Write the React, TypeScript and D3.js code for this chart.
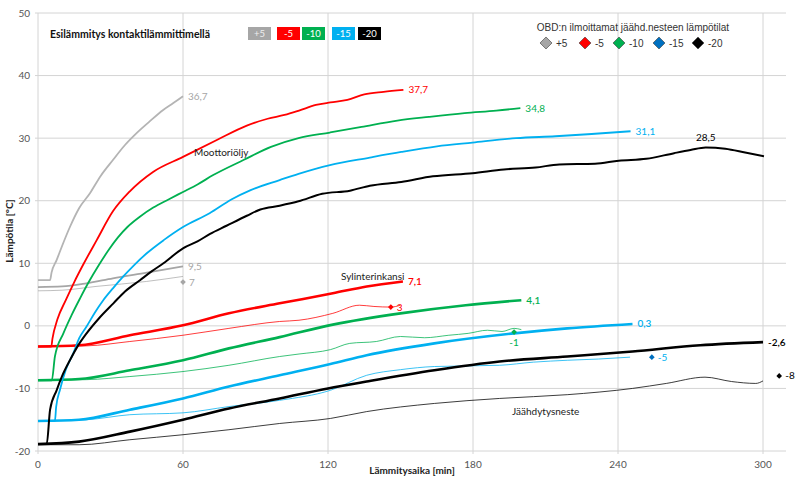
import * as d3 from "d3";

type Pt = [number, number];

// series keys: +5, -5, -10, -15, -20 (outdoor temperature during test)
const seriesNames = ["+5", "-5", "-10", "-15", "-20"];
const seriesColors = ["#a6a6a6", "#ff0000", "#00b050", "#00b0f0", "#000000"];
const obdColors = ["#a6a6a6", "#ff0000", "#00b050", "#0070c0", "#000000"];

const xTicks = [0, 60, 120, 180, 240, 300];
const yTicks = [-20, -10, 0, 10, 20, 30, 40, 50];

// Moottoriöljy (engine oil)
const oilP5: Pt[] = [[0, 7.3], [5, 7.3], [5.6, 8.5], [7.7, 10.5], [10, 12.8], [13.2, 15.8], [17, 18.8], [21.5, 21.2], [26, 24], [31, 26.5], [36, 28.9], [40.8, 30.8], [46, 32.6], [51.8, 34.5], [56, 35.6], [60, 36.7]];
const oilM5: Pt[] = [[0, -3.3], [5.5, -3.3], [6, -2], [8, 1], [11.5, 4.1], [15, 7], [19, 10], [24.3, 13.7], [31, 18.3], [38, 21.5], [47.6, 24.6], [60, 27], [74, 29.7], [86.4, 32], [95, 33.1], [102, 33.7], [108, 34.4], [115, 35.3], [121, 35.7], [128, 36.1], [135, 37], [143, 37.4], [151.2, 37.7]];
const oilM10: Pt[] = [[0, -8.7], [5.7, -8.7], [7, -4.9], [10.5, -1.2], [14, 1.8], [17.4, 4.4], [21, 7], [25, 9.6], [29, 12], [33, 14.1], [37, 15.8], [42, 17.4], [47.7, 18.9], [54, 20.2], [60, 21.4], [66, 22.6], [72.5, 24.1], [85, 26.5], [96.4, 28.6], [107.8, 30], [120.8, 30.9], [133.9, 31.8], [148.7, 32.8], [161.8, 33.4], [176.5, 34], [189.6, 34.4], [199.6, 34.8]];
const oilM15: Pt[] = [[0, -15.2], [7, -15.2], [7.5, -13], [9.1, -10.2], [11.5, -7], [14.6, -4.4], [17, -2], [20.1, -0.1], [23.5, 2.1], [27, 4.1], [31, 6], [35.3, 7.9], [40, 9.8], [45, 11.6], [52, 13.7], [60, 15.8], [71, 18], [80, 20.2], [88, 21.7], [100, 23.3], [107.8, 24.3], [120.8, 25.7], [137.3, 26.9], [150.3, 27.8], [165.1, 28.7], [179.8, 29.3], [197.8, 30], [214.1, 30.3], [230.5, 30.7], [245.2, 31.1]];
const oilM20: Pt[] = [[0, -18.9], [3.6, -18.9], [5, -13.4], [7.7, -10.3], [10, -8], [13.2, -5.5], [16.5, -3.2], [20.1, -1.2], [25, 1.1], [31.2, 3.6], [36, 5.5], [42.2, 7.3], [47, 8.7], [51.9, 10], [60, 12.4], [66, 13.5], [71.2, 14.7], [78, 16], [86.4, 17.6], [92, 18.6], [100, 19.2], [107.8, 19.9], [117.6, 21.1], [129.1, 21.6], [137.3, 22.4], [150.3, 23], [163.4, 23.9], [179.8, 24.4], [192.8, 25], [205.9, 25.3], [215.7, 25.8], [230.5, 25.9], [240.3, 26.4], [251.7, 26.7], [263.2, 27.6], [270, 28.1], [276.3, 28.5], [284.4, 28.3], [292.6, 27.7], [300.4, 27.1]];

// Sylinterinkansi (cylinder head)
const headP5: Pt[] = [[0, 6.2], [10, 6.3], [20, 6.8], [31, 7.6], [45, 8.5], [60, 9.5]];
const headM5: Pt[] = [[0, -3.3], [17, -3.1], [38, -1.5], [60, 0.1], [79, 2], [100, 3.6], [122, 5.2], [136, 6.3], [151, 7.1]];
const headM10: Pt[] = [[0, -8.7], [17, -8.5], [38, -7.1], [60, -5.5], [79, -3.6], [100, -1.8], [122, 0.2], [150, 2], [177, 3.3], [200, 4.1]];
const headM15: Pt[] = [[0, -15.2], [17, -15], [38, -13.4], [60, -11.6], [79, -9.7], [100, -7.9], [121, -6.1], [136, -4.7], [164, -2.8], [197, -1.2], [219, -0.4], [246, 0.3]];
const headM20: Pt[] = [[0, -18.9], [17, -18.5], [38, -16.9], [60, -15], [79, -13.2], [100, -11.6], [120, -10], [136, -8.9], [164, -7.1], [191, -5.7], [219, -4.9], [246, -4.1], [274, -3.1], [300, -2.6]];

// Jäähdytysneste (coolant)
const coolP5: Pt[] = [[0, 5.6], [10, 5.7], [24, 6.3], [45, 7.1], [60, 7.9]];
const coolM5: Pt[] = [[0, -3.3], [20, -3.2], [38, -2.5], [60, -1.5], [79, -0.4], [100, 0.7], [108, 0.9], [122, 2], [133, 3.3], [139, 3.1], [146, 3], [150, 3.3]];
const coolM10: Pt[] = [[0, -8.7], [20, -8.6], [38, -8.1], [60, -7.3], [79, -6.3], [100, -4.9], [108, -4.5], [121, -3.8], [129, -2.8], [140, -2.5], [150, -1.7], [160, -1.9], [170, -1.5], [178, -1.2], [186, -0.7], [192, -0.9], [197, -0.4], [200, -0.6]];
const coolM15: Pt[] = [[0, -15.2], [20, -15], [38, -14.2], [60, -13.9], [79, -12.9], [100, -11.9], [121, -10.3], [136, -7.9], [150, -7], [164, -6.5], [191, -6.3], [205, -5.8], [219, -5.5], [232, -5.3], [245, -5]];
const coolM20: Pt[] = [[0, -19], [17, -19], [38, -18.2], [60, -17.4], [79, -16.6], [100, -15.6], [121, -14.8], [136, -13.7], [164, -12.4], [191, -11.6], [219, -11], [246, -10], [260, -9.2], [276, -8.2], [287, -8.9], [297, -9.2], [300, -8.8]];

// OBD reported coolant temperatures
const obdPoints: Pt[] = [[60, 7], [146, 3], [197, -1], [254, -5], [306.7, -8]];
const obdLabels = ["7", "3", "-1", "-5", "-8"];

const oilSeries = [oilP5, oilM5, oilM10, oilM15, oilM20];
const headSeries = [headP5, headM5, headM10, headM15, headM20];
const coolSeries = [coolP5, coolM5, coolM10, coolM15, coolM20];

const oilEndLabels = ["36,7", "37,7", "34,8", "31,1", ""];
const headEndLabels = ["9,5", "7,1", "4,1", "0,3", "-2,6"];

export default function App() {
  const width = 800;
  const height = 494;
  const x = d3.scaleLinear().domain([0, 300]).range([38, 763]);
  const y = d3.scaleLinear().domain([-20, 50]).range([451, 13]);
  const gridRight = 786;

  const line = d3
    .line<Pt>()
    .x((d) => x(d[0]))
    .y((d) => y(d[1]))
    .curve(d3.curveMonotoneX);

  // square turned 45deg -> diamond like Excel's marker
  const square = d3.symbol().type(d3.symbolSquare);
  const font = "Lato, 'Open Sans', sans-serif";
  const last = (s: Pt[]) => s[s.length - 1];
  const peak = d3.greatest(oilM20, (d) => d[1])!;

  return (
    <div style={{ position: "absolute", left: 0, top: 0 }}>
      <svg width={width} height={height} style={{ display: "block", background: "#fff" }} fontFamily={font}>
        {/* grid */}
        {yTicks.map((t) => (
          <g key={"y" + t}>
            <line x1={x(0) - 3} x2={gridRight} y1={y(t)} y2={y(t)} stroke="#d4d4d4" strokeWidth={1} />
            <text x={30} y={y(t) + 3.5} textAnchor="end" fontSize={10} fill="#555">{t}</text>
          </g>
        ))}
        {xTicks.map((t) => (
          <g key={"x" + t}>
            <line x1={x(t)} x2={x(t)} y1={y(50)} y2={y(-20) + 3} stroke="#d4d4d4" strokeWidth={1} />
            <text x={x(t)} y={468} textAnchor="middle" fontSize={10} fill="#555">{t}</text>
          </g>
        ))}

        {/* coolant (thin) */}
        {coolSeries.map((s, i) => (
          <path key={"c" + i} d={line(s)!} fill="none" stroke={seriesColors[i]} strokeWidth={0.9} opacity={i === 0 ? 0.8 : 0.85} />
        ))}
        {/* cylinder head (thick) */}
        {headSeries.map((s, i) => (
          <path key={"h" + i} d={line(s)!} fill="none" stroke={seriesColors[i]} strokeWidth={i === 0 ? 1.8 : 2.6} />
        ))}
        {/* engine oil */}
        {oilSeries.map((s, i) => (
          <path key={"o" + i} d={line(s)!} fill="none" stroke={i === 0 ? "#b4b4b4" : seriesColors[i]} strokeWidth={i === 4 ? 2 : 1.8} />
        ))}

        {/* end labels */}
        {oilSeries.map((s, i) =>
          oilEndLabels[i] ? (
            <text key={"ol" + i} x={x(last(s)[0]) + 5} y={y(last(s)[1]) + 3.5} fontSize={10} fill={seriesColors[i]}>
              {oilEndLabels[i]}
            </text>
          ) : null,
        )}
        <text x={x(peak[0])} y={y(peak[1]) - 7} textAnchor="middle" fontSize={10} fill="#000">28,5</text>
        {headSeries.map((s, i) => (
          <text key={"hl" + i} x={x(last(s)[0]) + 5} y={y(last(s)[1]) + 3.5} fontSize={10} fontWeight={i === 0 ? 400 : 600} fill={seriesColors[i]}>
            {headEndLabels[i]}
          </text>
        ))}

        {/* OBD markers */}
        {obdPoints.map((p, i) => (
          <g key={"m" + i}>
            <path d={square.size(16)()!} transform={`translate(${x(p[0])},${y(p[1])}) rotate(45)`} fill={obdColors[i]} />
            <text
              x={i === 2 ? x(p[0]) : x(p[0]) + 6}
              y={i === 2 ? y(p[1]) + 14 : y(p[1]) + 3.5}
              textAnchor={i === 2 ? "middle" : "start"}
              fontSize={10}
              fill={seriesColors[i]}
            >
              {obdLabels[i]}
            </text>
          </g>
        ))}

        {/* annotations */}
        <text x={194} y={156} fontSize={10} fill="#222">Moottoriöljy</text>
        <text x={341} y={280} fontSize={10} fill="#222">Sylinterinkansi</text>
        <text x={512} y={415} fontSize={10} fill="#222">Jäähdytysneste</text>

        {/* axis titles */}
        <text x={412} y={474} textAnchor="middle" fontSize={10} fontWeight={700} fill="#222">Lämmitysaika [min]</text>
        <text transform="translate(13,231) rotate(-90)" textAnchor="middle" fontSize={10} fontWeight={700} fill="#222">Lämpötila [°C]</text>

        {/* legend: preheating */}
        <text x={50} y={38} fontSize={10.5} fontWeight={700} fill="#111">Esilämmitys kontaktilämmittimellä</text>
        {seriesNames.map((n, i) => {
          const bx = [248, 277, 302, 332, 358][i];
          return (
            <g key={"lg" + i}>
              <rect x={bx} y={27} width={23} height={13} fill={seriesColors[i]} />
              <text x={bx + 11.5} y={37} textAnchor="middle" fontSize={9.5} fill={i === 0 ? "#eee" : "#fff"}>{n}</text>
            </g>
          );
        })}

        {/* legend: OBD */}
        <text x={633} y={31} textAnchor="middle" fontSize={10} fill="#333" fontFamily="'Liberation Sans', Arial, sans-serif">
          OBD:n ilmoittamat jäähd.nesteen lämpötilat
        </text>
        {seriesNames.map((n, i) => {
          const mx = [546, 585, 619, 659, 698][i];
          return (
            <g key={"lo" + i}>
              <path d={square.size(72)()!} transform={`translate(${mx},${43}) rotate(45)`} fill={obdColors[i]} stroke="#444" strokeWidth={0.6} />
              <text x={mx + 10} y={46.5} fontSize={10} fill="#333" fontFamily="'Liberation Sans', Arial, sans-serif">{n}</text>
            </g>
          );
        })}
      </svg>
    </div>
  );
}
